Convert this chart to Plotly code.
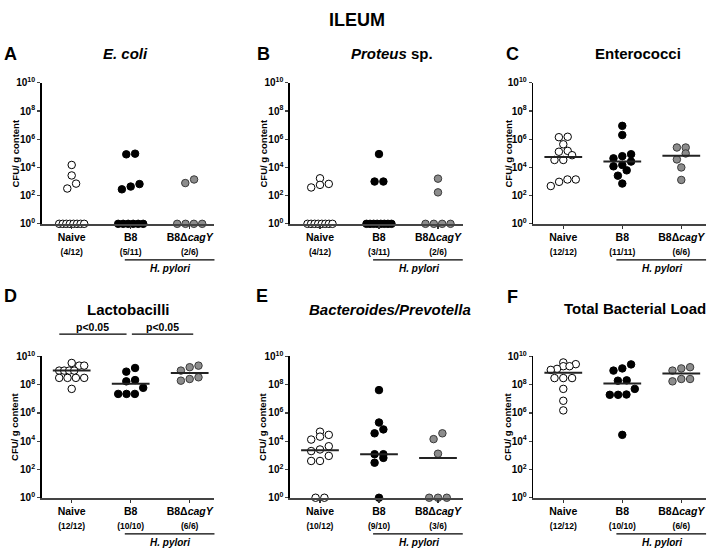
import numpy as np
import plotly.graph_objects as go

# ---------------- data (CFU / g content; 0 = not detected) ----------------
groups = ["Naive", "B8", "B8\u0394<i>cagY</i>"]

ecoli_naive = [1.5e4, 2.7e3, 7.1e2, 3.2e2, 0, 0, 0, 0, 0, 0, 0, 0]
ecoli_b8 = [8.5e4, 9.5e4, 4.4e2, 2.8e2, 6.6e2, 0, 0, 0, 0, 0, 0]
ecoli_b8d = [1.4e3, 7.8e2, 0, 0, 0, 0]
ecoli_counts = ["(4/12)", "(5/11)", "(2/6)"]

proteus_naive = [1.7e3, 5.8e2, 3.8e2, 6.8e2, 0, 0, 0, 0, 0, 0, 0, 0]
proteus_b8 = [8.9e4, 1.0e3, 1.0e3, 0, 0, 0, 0, 0, 0, 0, 0]
proteus_b8d = [1.6e3, 1.7e2, 0, 0, 0, 0]
proteus_counts = ["(4/12)", "(3/11)", "(2/6)"]

entero_naive = [1.5e6, 1.4e6, 4.4e5, 1.3e5, 1.5e5, 7.4e4, 3.4e4, 3.4e4, 1.4e3, 1.4e3, 9.5e2, 4.8e2]
entero_b8 = [8.9e6, 2.0e6, 6.3e4, 8.7e4, 4.4e4, 2.6e4, 1.2e4, 1.5e4, 6.2e3, 2.6e3, 7.2e2]
entero_b8d = [2.6e5, 2.6e5, 9.8e4, 3.7e4, 1.0e4, 1.3e3]
entero_counts = ["(12/12)", "(11/11)", "(6/6)"]

lacto_naive = [3.4e9, 2.2e9, 2.2e9, 9.8e8, 9.8e8, 9.8e8, 9.8e8, 3.0e8, 3.0e8, 3.0e8, 3.0e8, 5.0e7]
lacto_b8 = [1.5e9, 8.3e8, 2.1e8, 1.7e8, 5.9e7, 2.2e7, 2.2e7, 2.2e7]
lacto_b8d = [1.7e9, 9.8e8, 2.2e9, 3.3e8, 1.9e8, 2.5e8]
lacto_counts = ["(12/12)", "(10/10)", "(6/6)"]

bact_naive = [4.7e4, 2.1e4, 2.8e4, 1.3e4, 4.4e3, 2.0e3, 2.6e3, 9.1e2, 4.0e2, 4.0e2, 0, 0]
bact_b8 = [4.1e7, 2.1e5, 6.8e4, 3.6e4, 1.2e3, 1.2e3, 6.6e2, 3.0e2, 0]
bact_b8d = [1.4e4, 3.6e4, 1.3e3, 0, 0, 0]
bact_counts = ["(10/12)", "(9/10)", "(3/6)"]

total_naive = [2.8e9, 3.7e9, 2.0e9, 2.0e9, 1.3e9, 1.1e9, 2.9e8, 2.9e8, 2.9e8, 5.0e7, 7.2e6, 1.5e6]
total_b8 = [1.4e9, 9.8e8, 2.7e9, 1.9e8, 2.0e8, 5.0e7, 2.0e7, 1.9e7, 1.9e7, 2.8e4]
total_b8d = [1.4e9, 9.8e8, 1.7e9, 2.5e8, 2.5e8, 1.7e8]
total_counts = ["(12/12)", "(10/10)", "(6/6)"]

y_tickvals = [1, 1e2, 1e4, 1e6, 1e8, 1e10]
y_ticktext = ["<b>10<sup>%d</sup></b>" % e for e in [0, 2, 4, 6, 8, 10]]

# ---------------- geometry ----------------
W, H = 715, 556
FONT = "Liberation Sans, Arial, sans-serif"
XR = [-0.51, 2.42]
PX_X = 59.0
col_left = [41.6, 289.9, 533.2]
col_w = (XR[1] - XR[0]) * PX_X
row_top = [77.7, 357.7]
row_bot = [222.0, 502.5]
PX_DEC = (row_bot[0] - row_top[0]) / 10.0


def px2x(px):
    return px / W


def px2y(py):
    return 1 - py / H


def swarm(vals):
    vals = np.asarray(vals, float)
    ys = np.where(vals > 0, vals, 1.0)
    lv = np.log10(ys)
    offs = np.zeros(len(vals))

    def place_row(ids):
        n = len(ids)
        if n == 1:
            offs[ids[0]] = 0.0
            return
        s = min(8.8, 25.0 / (n - 1))
        for k, i in enumerate(ids):
            offs[i] = (k - (n - 1) / 2.0) * s / PX_X

    zeros = [i for i in range(len(vals)) if vals[i] <= 0]
    if zeros:
        place_row(zeros)
    order = [i for i in np.argsort(lv, kind="stable") if vals[i] > 0]
    row = []
    for i in order:
        if row and (lv[i] - lv[row[0]]) * PX_DEC >= 7.0:
            place_row(row)
            row = []
        row.append(i)
    if row:
        place_row(row)
    return offs, ys


panels = [
    dict(letter="A", title="<b><i>E. coli</i></b>", tx=125, ty=48,
         data=[ecoli_naive, ecoli_b8, ecoli_b8d], counts=ecoli_counts, median=False),
    dict(letter="B", title="<b><i>Proteus</i> sp.</b>", tx=392, ty=48,
         data=[proteus_naive, proteus_b8, proteus_b8d], counts=proteus_counts, median=False),
    dict(letter="C", title="<b>Enterococci</b>", tx=638, ty=48,
         data=[entero_naive, entero_b8, entero_b8d], counts=entero_counts, median=True),
    dict(letter="D", title="<b>Lactobacilli</b>", tx=128, ty=310,
         data=[lacto_naive, lacto_b8, lacto_b8d], counts=lacto_counts, median=True),
    dict(letter="E", title="<b><i>Bacteroides/Prevotella</i></b>", tx=390, ty=310,
         data=[bact_naive, bact_b8, bact_b8d], counts=bact_counts, median=True),
    dict(letter="F", title="<b>Total Bacterial Load</b>", tx=635, ty=309,
         data=[total_naive, total_b8, total_b8d], counts=total_counts, median=True),
]
letter_pos = [(10, 48), (263, 48), (512, 48), (10, 296), (262, 296), (512, 297)]
ylab_x = [15, 263, 508]
ylab_y = [150, 430]

fill = ["white", "black", "#8c8c8c"]
edge = ["black", "black", "#3a3a3a"]

fig = go.Figure()
layout = dict(width=W, height=H, margin=dict(l=0, r=0, t=0, b=0, pad=0),
              paper_bgcolor="white", plot_bgcolor="white", showlegend=False,
              font=dict(family=FONT, color="black"))
annotations = []
shapes = []


def ann(text, x, y, size, xref="paper", angle=0):
    return dict(text=text, x=x, y=y, xref=xref, yref="paper", showarrow=False,
                xanchor="center", yanchor="middle", textangle=angle,
                font=dict(size=size, family=FONT, color="black"))


annotations.append(ann("<b>ILEUM</b>", px2x(357), px2y(13), 18))

for p_i, pn in enumerate(panels):
    r, c = divmod(p_i, 3)
    k = p_i + 1
    xa = "x" if k == 1 else "x%d" % k
    ya = "y" if k == 1 else "y%d" % k
    xkey = "xaxis" if k == 1 else "xaxis%d" % k
    ykey = "yaxis" if k == 1 else "yaxis%d" % k

    ticktext = ["<b>%s</b><br><span style='font-size:8.5px'><b>%s</b></span>" % (g, cnt)
                for g, cnt in zip(groups, pn["counts"])]
    layout[xkey] = dict(domain=[px2x(col_left[c]), px2x(col_left[c] + col_w)], range=XR,
                        anchor=ya, tickmode="array", tickvals=[0, 1, 2], ticktext=ticktext,
                        ticks="outside", ticklen=3, tickwidth=1.2, tickcolor="#333",
                        showline=True, linewidth=1.8, linecolor="#444", showgrid=False,
                        zeroline=False, fixedrange=True,
                        tickfont=dict(size=10.5, family=FONT, color="black"))
    layout[ykey] = dict(domain=[px2y(row_bot[r]), px2y(row_top[r])], type="log", range=[0, 10],
                        anchor=xa, tickmode="array", tickvals=y_tickvals, ticktext=y_ticktext,
                        ticks="outside", ticklen=3, tickwidth=1.2, showline=True, linewidth=1.5,
                        linecolor="black", showgrid=False, zeroline=False, fixedrange=True,
                        tickfont=dict(size=10, family=FONT, color="black"))

    for gi, vals in enumerate(pn["data"]):
        offs, ys = swarm(vals)
        fig.add_trace(go.Scatter(x=gi + offs, y=ys, mode="markers", xaxis=xa, yaxis=ya,
                                 cliponaxis=False, hoverinfo="skip",
                                 marker=dict(size=7.5, color=fill[gi],
                                             line=dict(color=edge[gi], width=1))))
        if pn["median"]:
            med = float(np.median(np.asarray(vals, float)))
            fig.add_trace(go.Scatter(x=[gi - 0.32, gi + 0.32], y=[med, med], mode="lines",
                                     xaxis=xa, yaxis=ya, cliponaxis=False, hoverinfo="skip",
                                     line=dict(color="#222", width=2)))

    # H. pylori bracket
    ly = row_bot[r] + 37
    shapes.append(dict(type="line", xref=xa, yref="paper", x0=0.9, x1=XR[1] + 0.02,
                       y0=px2y(ly), y1=px2y(ly), line=dict(color="black", width=1.2)))
    annotations.append(ann("<b><i>H. pylori</i></b>", (0.9 + XR[1] + 0.02) / 2,
                           px2y(ly + 8.5), 10, xref=xa))
    # letter, title, y-label
    lx, lyy = letter_pos[p_i]
    annotations.append(ann("<b>%s</b>" % pn["letter"], px2x(lx), px2y(lyy), 18))
    annotations.append(ann(pn["title"], px2x(pn["tx"]), px2y(pn["ty"]), 15))
    annotations.append(ann("<b>CFU/ g content</b>", px2x(ylab_x[c]), px2y(ylab_y[r]), 9.5,
                           angle=-90))

# significance bars in panel D
sig_pairs = [(-0.21, 0.93), (1.02, 2.06)]
for (a, b) in sig_pairs:
    shapes.append(dict(type="line", xref="x4", yref="paper", x0=a, x1=b,
                       y0=px2y(335), y1=px2y(335), line=dict(color="black", width=1.2)))
    annotations.append(ann("<b>p&lt;0.05</b>", (a + b) / 2, px2y(328), 10.5, xref="x4"))

layout["annotations"] = annotations
layout["shapes"] = shapes
fig.update_layout(**layout)
fig.write_html("out.html", config={"displayModeBar": False, "staticPlot": True},
               post_script="document.body.style.margin='0px';document.body.style.overflow='hidden';")
